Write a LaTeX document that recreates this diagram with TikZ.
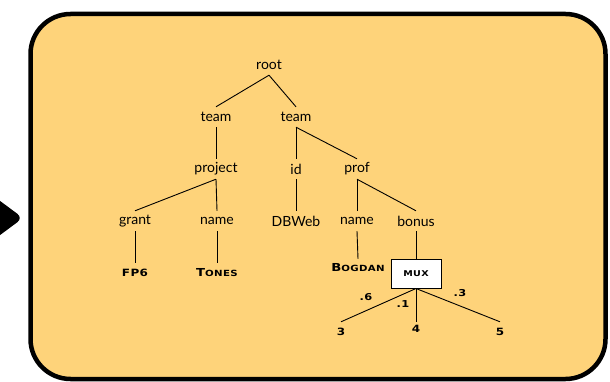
\documentclass[tikz,border=0pt]{standalone}
\usepackage{fontspec}
\setmainfont{Lato}
\newfontfamily\copfont[LetterSpace=4,FakeStretch=1.2]{DejaVu Sans}
\definecolor{boxfill}{RGB}{254,211,122}
\newcommand{\smc}[2]{{\copfont\bfseries\fontsize{11}{12}\selectfont #1\fontsize{8.5}{10}\selectfont #2}}
\tikzset{
  tn/.style={inner sep=0pt, minimum height=20pt, font=\fontsize{14}{16}\selectfont},
  cn/.style={inner sep=0pt, minimum height=20pt},
  num/.style={inner sep=0pt, minimum height=20pt, font=\copfont\bfseries\fontsize{10}{12}\selectfont},
  lbl/.style={inner sep=0pt, font=\copfont\bfseries\fontsize{9.5}{11}\selectfont},
  edge/.style={line width=0.9pt},
  muxbox/.style={draw, line width=1pt, fill=white, minimum width=50pt, minimum height=29pt, inner sep=0pt}
}
\begin{document}
\begin{tikzpicture}[x=1pt,y=-1pt]
\useasboundingbox (0,0) rectangle (610,382);
\fill[rounded corners=7pt] (-12,192) -- (23,218) -- (-12,244) -- cycle;
\draw[line width=4.5pt, fill=boxfill, rounded corners=40pt] (30.5,14) rectangle (605.5,379);

\node[tn] (root) at (269,65) {root};
\node[tn] (teamA) at (216,117) {team};
\node[tn] (teamB) at (296,117) {team};
\node[tn] (project) at (216,169) {project};
\node[tn] (id) at (296,169) {id};
\node[tn] (prof) at (357,169) {prof};
\node[tn] (grant) at (135,221) {grant};
\node[tn] (nameA) at (217,221) {name};
\node[tn] (dbweb) at (296,221) {DBWeb};
\node[tn] (nameB) at (357,221) {name};
\node[tn] (bonus) at (416,221) {bonus};
\node[cn] (fp6) at (135,273) {\smc{}{\fontsize{10}{12}\selectfont FP6}};
\node[cn] (tones) at (217,273) {\smc{T}{ONES}};
\node[cn] (bogdan) at (358,268) {\smc{B}{OGDAN}};
\node[muxbox] (mux) at (416,273.5) {{\copfont\bfseries\fontsize{8}{10}\selectfont MUX}};
\node[num] (n3) at (341,332) {3};
\node[num] (n4) at (416,329) {4};
\node[num] (n5) at (500,332) {5};
\node[lbl] (l6) at (366,297) {.6};
\node[lbl] (l1) at (403,304) {.1};
\node[lbl] (l3) at (460,293) {.3};

\draw[edge] (root.south) -- (teamA.north);
\draw[edge] (root.south) -- (teamB.north);
\draw[edge] (teamA.south) -- (project.north);
\draw[edge] (teamB.south) -- (id.north);
\draw[edge] (teamB.south) -- (prof.north);
\draw[edge] (project.south) -- (grant.north);
\draw[edge] (project.south) -- (nameA.north);
\draw[edge] (id.south) -- (dbweb.north);
\draw[edge] (prof.south) -- (nameB.north);
\draw[edge] (prof.south) -- (bonus.north);
\draw[edge] (grant.south) -- (fp6.north);
\draw[edge] (nameA.south) -- (tones.north);
\draw[edge] (nameB.south) -- ([yshift=-1pt]bogdan.north);
\draw[edge] (bonus.south) -- (mux.north);
\draw[edge] (mux.south) -- (n3.north);
\draw[edge] (mux.south) -- ([yshift=-3pt]n4.north);
\draw[edge] (mux.south) -- (n5.north);
\end{tikzpicture}
\end{document}
